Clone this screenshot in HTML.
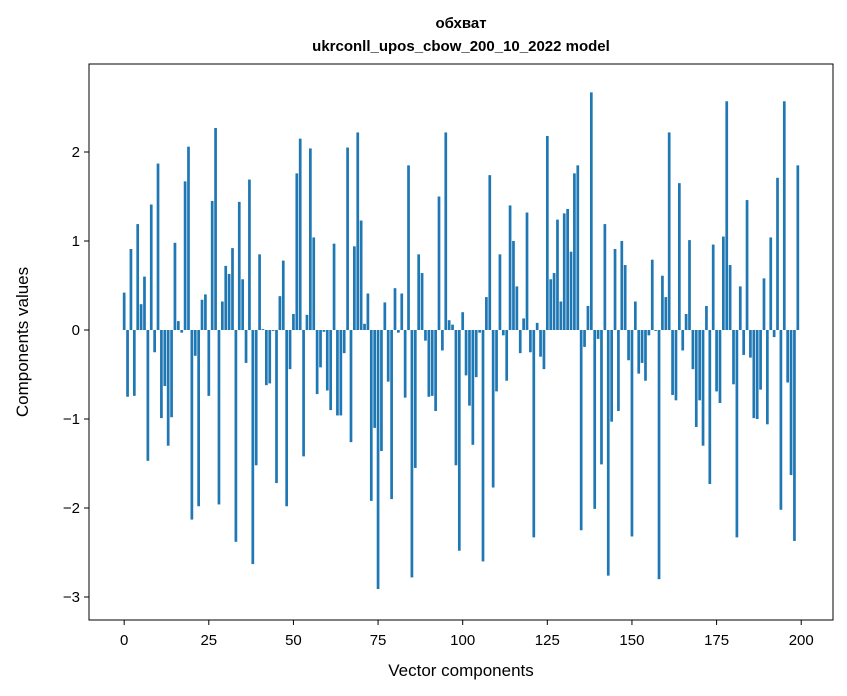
<!DOCTYPE html>
<html><head><meta charset="utf-8"><style>
body{margin:0;background:#fff;}
svg{display:block;font-family:"Liberation Sans","DejaVu Sans",sans-serif;}
</style></head><body>
<svg id="chart" width="847" height="696">
<text x="461" y="28" text-anchor="middle" font-size="15" font-weight="bold">обхват</text>
<text x="461" y="51" text-anchor="middle" font-size="15" font-weight="bold">ukrconll_upos_cbow_200_10_2022 model</text>
<g id="bars"></g>
<rect x="89" y="64" width="744" height="556" fill="none" stroke="#000" stroke-width="1"/>
<g id="xticks"></g>
<g id="yticks"></g>
<text x="461" y="676" text-anchor="middle" font-size="17">Vector components</text>
<text transform="translate(28,342) rotate(-90)" text-anchor="middle" font-size="17">Components values</text>
</svg>
<script>
const values = [0.42,-0.75,0.91,-0.74,1.19,0.29,0.60,-1.47,1.41,-0.25,1.87,-0.99,-0.63,-1.30,-0.98,0.98,0.10,-0.03,1.67,2.06,
-2.13,-0.29,-1.98,0.34,0.40,-0.74,1.45,2.27,-1.96,0.32,0.72,0.63,0.92,-2.38,1.44,0.57,-0.37,1.69,-2.63,-1.52,
0.85,0.01,-0.62,-0.60,-0.01,-1.72,0.38,0.78,-1.98,-0.44,0.18,1.76,2.15,-1.42,0.17,2.04,1.04,-0.72,-0.42,-0.02,
-0.68,-0.90,0.97,-0.96,-0.96,-0.26,2.05,-1.26,0.94,2.22,1.23,0.07,0.41,-1.92,-1.10,-2.91,-1.36,0.31,-0.58,-1.90,
0.47,-0.03,0.41,-0.76,1.85,-2.78,-1.55,0.85,0.64,-0.12,-0.75,-0.74,-0.91,1.50,-0.23,2.22,0.11,0.06,-1.52,-2.48,
0.20,-0.51,-0.85,-1.29,-0.53,-0.03,-2.60,0.37,1.74,-1.77,-0.69,0.85,-0.06,-0.57,1.40,1.00,0.49,-0.26,0.13,1.32,
-0.25,-2.33,0.08,-0.30,-0.44,2.18,0.57,0.64,1.24,0.32,1.31,1.36,0.88,1.76,1.85,-2.25,-0.19,0.27,2.67,-2.01,
-0.10,-1.51,1.19,-2.76,-1.03,0.91,-0.91,1.00,0.73,-0.34,-2.32,0.32,-0.49,-0.37,-0.57,-0.06,0.79,-0.01,-2.80,0.61,
0.37,2.22,-0.73,-0.79,1.65,-0.23,0.18,1.01,-0.44,-1.09,-0.79,-1.30,0.27,-1.73,0.96,-0.69,-0.82,1.05,2.57,0.73,
-0.61,-2.33,0.49,-0.28,1.46,-0.31,-0.99,-1.00,-0.67,0.58,-1.06,1.04,-0.08,1.71,-2.02,2.57,-0.59,-1.63,-2.37,1.85];
const xTickLabels = [0,25,50,75,100,125,150,175,200];
const yTickLabels = [-3,-2,-1,0,1,2];
const NS="http://www.w3.org/2000/svg";
const X0=89,X1=833,XMIN=-10.39,XMAX=209.39;
function xs(v){return X0+(v-XMIN)/(XMAX-XMIN)*(X1-X0);}
function ys(v){return 330-v*89;}
const bars=document.getElementById('bars');
values.forEach((v,i)=>{
  const r=document.createElementNS(NS,'rect');
  const a=xs(i-0.4),b=xs(i+0.4);
  r.setAttribute('x',a);r.setAttribute('width',b-a);
  r.setAttribute('y',Math.min(ys(v),ys(0)));r.setAttribute('height',Math.abs(ys(v)-ys(0)));
  r.setAttribute('fill','#1f77b4');
  
  
  bars.appendChild(r);
});
const xt=document.getElementById('xticks');
xTickLabels.forEach(t=>{
  const l=document.createElementNS(NS,'line');
  l.setAttribute('x1',xs(t));l.setAttribute('x2',xs(t));l.setAttribute('y1',620);l.setAttribute('y2',625);l.setAttribute('stroke','#000');
  
  
  xt.appendChild(l);
  const s=document.createElementNS(NS,'text');
  s.setAttribute('x',xs(t));s.setAttribute('y',645);s.setAttribute('text-anchor','middle');s.setAttribute('font-size','15');
  s.textContent=t;
  
  
  xt.appendChild(s);
});
const yt=document.getElementById('yticks');
yTickLabels.forEach(t=>{
  const l=document.createElementNS(NS,'line');
  l.setAttribute('x1',84);l.setAttribute('x2',89);l.setAttribute('y1',ys(t));l.setAttribute('y2',ys(t));l.setAttribute('stroke','#000');
  
  
  yt.appendChild(l);
  const s=document.createElementNS(NS,'text');
  s.setAttribute('x',80);s.setAttribute('y',ys(t)+5);s.setAttribute('text-anchor','end');s.setAttribute('font-size','15');
  s.textContent=t<0?'\u2212'+Math.abs(t):String(t);
  
  
  yt.appendChild(s);
});
</script>
</body></html>
